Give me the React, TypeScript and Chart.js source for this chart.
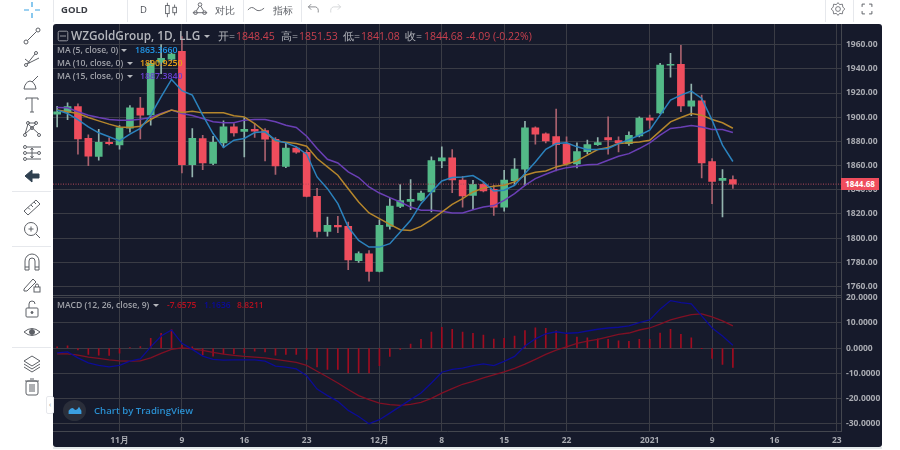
import React, { useEffect, useRef } from "react";
import { Chart, registerables } from "chart.js";

Chart.register(...registerables);

const opens = [1902.5,1904.2,1908.9,1882.6,1867.5,1879.3,1877,1891,1907.5,1902,1945.6,1948,1954.5,1860.8,1882.4,1861.7,1878.8,1892,1888.2,1890,1889,1881.8,1859.4,1874.4,1871,1834.6,1805.6,1810.6,1809.7,1781.3,1787,1772.4,1809.7,1826.3,1830.4,1831.5,1838.2,1863.9,1866.4,1848.1,1835.4,1844.5,1840.4,1825.7,1847.6,1857,1891.2,1886.2,1884,1877.7,1861.4,1871.6,1877.4,1883.2,1880.7,1878.2,1884.6,1899.2,1903.6,1943.1,1943.7,1909.2,1913.6,1863.3,1847.8,1848.45];
const closes = [1904.5,1908.9,1882,1867.7,1879.3,1878.2,1891.2,1907.8,1901.7,1944.5,1948.7,1952.3,1860.8,1882.6,1862.2,1879.3,1892,1887,1890,1888.5,1881.8,1859.7,1874.4,1871,1834.6,1805.6,1810.6,1809.2,1782,1787.3,1772.4,1810.6,1826.6,1831,1832.1,1837.3,1864.1,1866.4,1848.1,1834.9,1844.5,1839,1825.7,1848.1,1857.2,1891.2,1886,1880.4,1877.4,1861.4,1871.6,1877.4,1879.1,1881.3,1878.8,1885.1,1899.2,1897.6,1943.1,1943.7,1909.4,1913.6,1862.2,1847,1849.5,1844.68];
const highs = [1909,1912,1911,1885.4,1890,1883,1893,1909.7,1916.4,1947,1960,1953,1966.6,1890.7,1885,1884.3,1897,1894.8,1899.8,1895,1890.7,1883.2,1879.3,1875.7,1872.7,1841.2,1817.5,1818,1813.3,1788.6,1789.8,1815.2,1832.7,1844.3,1848.4,1839,1867.2,1875.5,1873.3,1851.2,1847.8,1846.5,1843.7,1856.1,1865.8,1896.7,1892,1887,1906.7,1883.8,1878.8,1881,1883.2,1900.3,1883.8,1887.9,1900.3,1901.7,1944.5,1952.8,1959.4,1927.4,1918.3,1865.8,1856.7,1851.53];
const lows = [1892,1898,1869.4,1860,1864.4,1877,1873.5,1887.6,1882,1893.4,1936,1947,1854,1850.6,1856.7,1860.8,1875,1884.3,1867.2,1883.2,1863.9,1852.8,1858.3,1870,1834,1800.9,1801.7,1804.5,1774,1780,1764.4,1772,1807.5,1825.2,1823.5,1830.7,1821.6,1858.3,1837.6,1825.7,1823.8,1838.2,1818.8,1822.4,1844.5,1843.7,1877.7,1878.8,1855.6,1860.3,1858,1869.7,1876.6,1869.4,1871.3,1876.6,1883.8,1890.7,1903,1933.2,1904.5,1901.2,1849.8,1828.5,1817.5,1841.08];

const ma5 = [1905.9,1903.1,1898.1,1892,1887.1,1883.8,1880.4,1886,1890.7,1901.7,1916.9,1931.3,1921.9,1918.3,1901.7,1886.5,1874.9,1881,1882.4,1887.3,1887.9,1881,1878.8,1875.5,1869.4,1850.6,1840.9,1828.5,1809.2,1798.1,1792.6,1792.6,1795.4,1805,1814.7,1828.5,1838.2,1847.3,1850.1,1850.6,1851.7,1846.5,1839,1839.6,1843.7,1853.4,1863,1873.5,1878.2,1878.8,1875.5,1873.3,1873.3,1874.1,1878.2,1881.5,1885.1,1889.3,1901.7,1914.1,1918.3,1921.6,1915.5,1897.6,1876.9,1863.4];
const ma10 = [1905.9,1904.5,1903.1,1899.8,1897,1894.3,1892,1891.5,1892.6,1898.1,1902.5,1905.9,1903.9,1905,1903.6,1903.6,1903.6,1901.2,1900.3,1894.8,1887.9,1880.4,1879.3,1878.2,1876,1865.8,1858.9,1852,1840.9,1829.9,1820.8,1816.1,1811.4,1807,1806.4,1809.7,1815.3,1821.6,1827.9,1832.7,1838.2,1841.5,1842.9,1843.7,1846.5,1852,1854.5,1855.6,1858.9,1861.1,1863.9,1868.6,1873.3,1874.9,1878.2,1878.8,1879.6,1881,1888.5,1896.2,1899.8,1903.1,1901.7,1898.1,1895.4,1890.9];
const ma15 = [1908.1,1907.8,1904.5,1901.7,1899.8,1898.1,1897.6,1897.6,1898.4,1899.8,1903.1,1905.9,1903.1,1901.4,1899,1896.2,1895.4,1895.4,1897.6,1898.1,1898.1,1896.2,1893.4,1891.5,1884.3,1874.1,1865.2,1862.2,1854.8,1850.1,1842.3,1837.3,1833.5,1829.9,1825.7,1823,1823,1822.2,1820.8,1820.8,1823.5,1825.7,1826.9,1831.3,1836.8,1843.7,1849.2,1852.8,1856.1,1858.3,1859.4,1860.6,1861.1,1864.4,1867.7,1869.9,1874.1,1878.8,1885.1,1890.7,1891.8,1893.1,1892,1889.8,1889.8,1887.4];

const macdLine = [-1.9,-1.5,-3.9,-5.9,-6.9,-7.5,-6.9,-5.2,-4.3,0.5,4.8,7.2,1.9,-0.5,-3.2,-4.5,-4.8,-4.7,-4.7,-4.7,-5.2,-7.2,-7.6,-8.3,-11,-16.3,-18.9,-21.2,-24.8,-27.2,-30.1,-28.5,-25.9,-23.2,-20.5,-17.9,-13.9,-9.6,-8.5,-8,-7,-6.3,-7,-5.3,-3.3,0.8,3.7,5.7,6.5,5.9,6.1,6.8,7.5,8,8.3,8.8,10.1,11.2,15.5,18.9,18.1,17.6,12.8,8,4.8,1.16];
const signalLine = [-2.3,-2.3,-2.8,-3.6,-4.1,-4.7,-5.1,-5.2,-5.1,-3.9,-2.1,-0.5,0.1,-0.3,-0.9,-1.7,-2.4,-2.9,-3.3,-3.6,-3.9,-4.5,-5.1,-5.7,-6.9,-9.2,-11.5,-13.9,-16.5,-18.9,-20.5,-21.9,-22.5,-22.8,-22.4,-21.6,-20,-17.9,-16.1,-14.4,-13.2,-11.9,-10.7,-9.5,-8.1,-6.4,-4.5,-2.5,-0.8,0.5,1.9,2.8,3.5,4.5,5.5,6,7.2,8,9.5,11.2,12.3,13.3,13.6,12.4,10.8,8.82];
const histogram = [0.5,0.9,-0.7,-2.5,-2.8,-2.9,-2,0.1,0.6,3.9,5.9,7.4,1.1,0.5,-2.7,-3.2,-2.3,-2.3,-1.9,-1.2,-1.5,-2.8,-2.5,-2.5,-4.5,-7.5,-8.5,-8.5,-9.9,-9.9,-9.9,-7,-3.3,-0.5,1.6,3.5,6.4,8.3,7.5,6.4,5.9,5.2,3.6,3.9,4.8,7,8.1,7.9,6.9,5.5,4.4,4.1,3.7,3.5,2.9,2.7,3.5,3.5,6,7.5,5.5,4.1,-0.1,-4.1,-6.5,-7.66];

const tickBars = [6, 12, 18, 24, 31, 37, 43, 49, 57, 63, 69, 75];
const tickLabels = ["11月", "9", "16", "23", "12月", "8", "15", "22", "2021", "9", "16", "23"];
const lastPrice = 1844.68;

const UP = "#53b987";
const DOWN = "#ef4d5d";
const UP_WICK = "#93b4ae";
const DOWN_WICK = "#a9616e";
const GRID = "#3a3c45";
const AXIS_TEXT = "#a9abb2";
const FONT = "'Open Sans', sans-serif";
const ICON = "#5d6066";

const xyOf = (values: number[]) => values.map((y, x) => ({ x, y }));
const isUp = (i: number) => closes[i] >= opens[i];

function Txt({ x, y, color, size = 8.5, weight = 400, children }: any) {
  return (
    <span
      style={{
        position: "absolute",
        left: x,
        top: y,
        transform: "translateY(-50%)",
        color,
        fontSize: size,
        fontWeight: weight,
        fontFamily: FONT,
        whiteSpace: "nowrap",
        lineHeight: 1,
      }}
    >
      {children}
    </span>
  );
}

function Caret({ x, y, color = "#b5b7bd" }: any) {
  return (
    <div
      style={{
        position: "absolute",
        left: x,
        top: y - 1,
        width: 0,
        height: 0,
        borderLeft: "3px solid transparent",
        borderRight: "3px solid transparent",
        borderTop: `3px solid ${color}`,
      }}
    />
  );
}

function Icon({ x, y, children, size = 20 }: any) {
  return (
    <svg
      width={size}
      height={size}
      viewBox="0 0 20 20"
      style={{ position: "absolute", left: x - size / 2, top: y - size / 2 }}
      fill="none"
      stroke={ICON}
      strokeWidth={1}
    >
      {children}
    </svg>
  );
}

function Rule({ x, y, w, h, color = "#e6e8ec" }: any) {
  return <div style={{ position: "absolute", left: x, top: y, width: w, height: h, background: color }} />;
}

export default function App() {
  const ref = useRef<HTMLCanvasElement>(null);

  useEffect(() => {
    document.body.style.margin = "0";
    const chart = new Chart(ref.current!, {
      type: "bar",
      data: {
        datasets: [
          {
            type: "bar",
            data: opens.map((o, i) => ({ x: i, y: [o, closes[i]] })) as any,
            backgroundColor: opens.map((_, i) => (isUp(i) ? UP : DOWN)),
            barThickness: 7,
            grouped: false,
            borderWidth: 0,
            xAxisID: "x",
            yAxisID: "y",
            order: 6,
          },
          {
            type: "bar",
            data: lows.map((l, i) => ({ x: i, y: [l, highs[i]] })) as any,
            backgroundColor: opens.map((_, i) => (isUp(i) ? UP_WICK : DOWN_WICK)),
            barThickness: 1,
            grouped: false,
            borderWidth: 0,
            xAxisID: "x",
            yAxisID: "y",
            order: 7,
          },
          {
            type: "line",
            data: [{ x: -0.4, y: lastPrice }, { x: 75.4, y: lastPrice }],
            borderColor: "#b5485a",
            borderWidth: 1,
            borderDash: [1, 1.5],
            pointRadius: 0,
            xAxisID: "x",
            yAxisID: "y",
            order: 5,
          },
          ...[
            { values: ma15, color: "#6a3fb5", order: 4 },
            { values: ma10, color: "#b5862c", order: 3 },
            { values: ma5, color: "#2b82bd", order: 2 },
          ].map((s) => ({
            type: "line" as const,
            data: xyOf(s.values),
            borderColor: s.color,
            borderWidth: 1.5,
            pointRadius: 0,
            tension: 0,
            xAxisID: "x",
            yAxisID: "y",
            order: s.order,
          })),
          {
            type: "bar",
            data: xyOf(histogram) as any,
            backgroundColor: "#a00c20",
            barThickness: 1,
            grouped: false,
            borderWidth: 0,
            xAxisID: "x",
            yAxisID: "m",
            order: 3,
          },
          {
            type: "line",
            data: xyOf(signalLine),
            borderColor: "#801024",
            borderWidth: 1.3,
            pointRadius: 0,
            xAxisID: "x",
            yAxisID: "m",
            order: 2,
          },
          {
            type: "line",
            data: xyOf(macdLine),
            borderColor: "#0c0c96",
            borderWidth: 1.3,
            pointRadius: 0,
            xAxisID: "x",
            yAxisID: "m",
            order: 1,
          },
        ] as any,
      },
      options: {
        responsive: false,
        animation: false,
        layout: { padding: { left: 53, right: 18, top: 24, bottom: 3 } },
        plugins: { legend: { display: false }, tooltip: { enabled: false } },
        scales: {
          x: {
            type: "linear",
            offset: false,
            min: -0.4,
            max: 75.4,
            afterBuildTicks: (axis: any) => {
              axis.ticks = tickBars.map((value) => ({ value }));
            },
            afterFit: (axis: any) => {
              axis.height = 16;
            },
            ticks: {
              autoSkip: false,
              maxRotation: 0,
              padding: 4,
              color: AXIS_TEXT,
              font: { family: FONT, size: 8.5, weight: "bold" },
              callback: (v: any) => tickLabels[tickBars.indexOf(Number(v))],
            },
            grid: { color: GRID, drawTicks: false, offset: false },
            border: { color: "#44474f" },
          },
          y: {
            type: "linear",
            position: "right",
            stack: "panes",
            stackWeight: 2,
            min: 1752.7,
            max: 1977.1,
            afterFit: (axis: any) => {
              axis.width = 41;
            },
            ticks: {
              stepSize: 20,
              includeBounds: false,
              padding: 5,
              color: AXIS_TEXT,
              font: { family: FONT, size: 8.5, weight: "bold" },
              callback: (v: any) => Number(v).toFixed(2),
            },
            grid: { color: GRID, drawTicks: false },
            border: { color: "#44474f" },
          },
          m: {
            type: "linear",
            position: "right",
            stack: "panes",
            stackWeight: 1,
            min: -33,
            max: 21,
            afterFit: (axis: any) => {
              axis.width = 41;
            },
            ticks: {
              stepSize: 10,
              includeBounds: false,
              padding: 5,
              color: AXIS_TEXT,
              font: { family: FONT, size: 8.5, weight: "bold" },
              callback: (v: any) => Number(v).toFixed(4),
            },
            grid: { color: GRID, drawTicks: false },
            border: { color: "#44474f" },
          },
        } as any,
      },
    });
    return () => chart.destroy();
  }, []);

  return (
    <div style={{ position: "fixed", left: 0, top: 0, width: 900, height: 450, background: "#fff", overflow: "hidden" }}>
      <div style={{ position: "absolute", left: 53, top: 24, width: 829, height: 423, background: "#161a2b", borderRadius: 3 }} />
      <Rule x={53} y={447} w={829} h={2} color="#e3e8ea" />
      <canvas ref={ref} width={900} height={450} style={{ position: "absolute", left: 0, top: 0, display: "block" }} />
      <Rule x={53} y={295} w={788} h={1} color="#44474f" />

      {/* last price label */}
      <div
        style={{
          position: "absolute",
          left: 841,
          top: 178,
          width: 38,
          height: 12,
          background: "#ef4d5d",
          color: "#fff",
          fontFamily: FONT,
          fontSize: 8,
          fontWeight: 700,
          lineHeight: "12px",
          textAlign: "center",
        }}
      >
        1844.68
      </div>

      {/* series header */}
      <Icon x={63} y={36} size={12}>
        <rect x="2" y="2" width="16" height="16" rx="2" stroke="#9a9ca3" strokeWidth="1.6" />
        <path d="M5 10H15" stroke="#9a9ca3" strokeWidth="1.6" />
      </Icon>
      <Txt x={71} y={36} color="#b4b6bc" size={11.8} weight={600}>WZGoldGroup, 1D, LLG</Txt>
      <Caret x={204} y={36} />
      <Txt x={218} y={36} color="#b4b6bc" size={10.5}>开=</Txt>
      <Txt x={236} y={36} color="#c8404e" size={10.5}>1848.45</Txt>
      <Txt x={281} y={36} color="#b4b6bc" size={10.5}>高=</Txt>
      <Txt x={299} y={36} color="#c8404e" size={10.5}>1851.53</Txt>
      <Txt x={343} y={36} color="#b4b6bc" size={10.5}>低=</Txt>
      <Txt x={361} y={36} color="#c8404e" size={10.5}>1841.08</Txt>
      <Txt x={405} y={36} color="#b4b6bc" size={10.5}>收=</Txt>
      <Txt x={424} y={36} color="#c8404e" size={10.5}>1844.68</Txt>
      <Txt x={466} y={36} color="#c8404e" size={10.5}>-4.09 (-0.22%)</Txt>

      <Txt x={57} y={50} color="#a0a2a9" size={8.6} weight={600}>MA (5, close, 0)</Txt>
      <Caret x={121} y={50} />
      <Txt x={135} y={50} color="#2196e8" size={8.8} weight={600}>1863.3660</Txt>
      <Txt x={57} y={63} color="#a0a2a9" size={8.6} weight={600}>MA (10, close, 0)</Txt>
      <Caret x={127} y={63} />
      <Txt x={140} y={63} color="#e8a017" size={8.8} weight={600}>1890.9250</Txt>
      <Txt x={57} y={76} color="#a0a2a9" size={8.6} weight={600}>MA (15, close, 0)</Txt>
      <Caret x={127} y={76} />
      <Txt x={140} y={76} color="#6a3fd0" size={8.8} weight={600}>1887.3840</Txt>

      <Txt x={57} y={305} color="#a0a2a9" size={8.6} weight={600}>MACD (12, 26, close, 9)</Txt>
      <Caret x={153} y={305} />
      <Txt x={167} y={305} color="#b8101f" size={8.5} weight={600}>-7.6575</Txt>
      <Txt x={204} y={305} color="#0a0a9c" size={8.5} weight={600}>1.1636</Txt>
      <Txt x={237} y={305} color="#b8101f" size={8.5} weight={600}>8.8211</Txt>

      {/* watermark */}
      <div style={{ position: "absolute", left: 63, top: 400, width: 23, height: 21, borderRadius: "50%", background: "#2a2e3a" }} />
      <Icon x={75} y={410} size={16}>
        <path d="M2 15 L2 11 Q6 5 9 9 Q12 12 15 6 L18 11 L18 15 Z" fill="#3b9fe0" stroke="none" />
      </Icon>
      <Txt x={94} y={411} color="#2a8fd0" size={9.6} weight={600}>Chart by TradingView</Txt>

      {/* top toolbar */}
      <Rule x={53} y={0} w={1} h={22} />
      <Txt x={61} y={10} color="#3a3d44" size={9.5} weight={700}>GOLD</Txt>
      <Rule x={127} y={0} w={1} h={22} />
      <Txt x={140} y={10} color="#50535a" size={9.5}>D</Txt>
      <Icon x={171} y={10} size={18}>
        <path d="M6 2V18M14 4V16" />
        <rect x="4" y="5" width="4" height="9" fill="#fff" />
        <rect x="12" y="7" width="4" height="6" fill="#fff" />
      </Icon>
      <Rule x={186} y={0} w={1} h={22} />
      <Icon x={200} y={10} size={18}>
        <circle cx="5" cy="13" r="2" /><circle cx="10" cy="4" r="2" /><circle cx="15" cy="13" r="2" />
        <path d="M2 13H18M6 11L9 6M11 6L14 11" />
      </Icon>
      <Txt x={215} y={10} color="#5d6066" size={10}>对比</Txt>
      <Rule x={243} y={0} w={1} h={22} />
      <Icon x={256} y={10} size={18}>
        <path d="M1 10Q5 5 9 9T19 8" />
      </Icon>
      <Txt x={273} y={10} color="#5d6066" size={10}>指标</Txt>
      <Rule x={301} y={0} w={1} h={22} />
      <Icon x={314} y={9} size={14}>
        <path d="M6 3L2 7L6 11M2 7H12Q17 8 16 15" />
      </Icon>
      <Icon x={335} y={9} size={14}>
        <g stroke="#c5c8cc"><path d="M14 3L18 7L14 11M18 7H8Q3 8 4 15" /></g>
      </Icon>
      <Rule x={825} y={0} w={1} h={22} />
      <Icon x={838} y={9} size={16}>
        <circle cx="10" cy="10" r="3" />
        <path d="M10 2L12 4.5L15.5 4L16 7.5L18.5 10L16 12.5L15.5 16L12 15.5L10 18L8 15.5L4.5 16L4 12.5L1.500 10L4 7.500L4.500 4L8 4.500Z" />
      </Icon>
      <Rule x={853} y={0} w={1} h={22} />
      <Icon x={867} y={9} size={14}>
        <path d="M3 7V3H7M13 3H17V7M17 13V17H13M7 17H3V13" strokeWidth="1.4" />
      </Icon>

      {/* left toolbar */}
      <Icon x={32} y={10}>
        <g stroke="#3aa3e3" strokeWidth="1.2"><path d="M10 2V7M10 13V18M2 10H7M13 10H18" /></g>
      </Icon>
      <Icon x={32} y={36}>
        <circle cx="4" cy="16" r="2" /><circle cx="16" cy="4" r="2" /><path d="M5.500 14.500L14.500 5.500" />
      </Icon>
      <Icon x={32} y={59}>
        <circle cx="4" cy="16" r="1.500" /><circle cx="14" cy="4" r="1.500" /><path d="M5 15L17 9M5 15L13 5M3 10L8 14" />
      </Icon>
      <Icon x={32} y={83}>
        <path d="M2 16H14Q13 9 8 8Q3 9 2 16ZM10 9L16 3" />
      </Icon>
      <Icon x={32} y={105}>
        <path d="M4 5V3H16V5M10 3V17M8 17H12" />
      </Icon>
      <Icon x={32} y={129}>
        <circle cx="3" cy="16" r="1.500" /><circle cx="6" cy="4" r="1.500" /><circle cx="14" cy="4" r="1.500" /><circle cx="17" cy="16" r="1.500" /><circle cx="10" cy="9" r="1.500" />
        <path d="M3 15L6 5L17 15M14 5L3 15M6 4H14" />
      </Icon>
      <Icon x={32} y={153}>
        <circle cx="3" cy="4" r="1.500" /><circle cx="3" cy="10" r="1.500" /><circle cx="3" cy="16" r="1.500" />
        <circle cx="17" cy="10" r="1.500" />
        <path d="M5 4H19M5 10H15M5 16H19M10 5V15M8.500 7L10 5L11.500 7M8.500 13L10 15L11.500 13" />
      </Icon>
      <Icon x={32} y={176}>
        <path d="M3 10L10 4V8H17V12H10V16Z" fill="#2f4050" stroke="#2f4050" />
      </Icon>
      <Rule x={12} y={191} w={39} h={1} />
      <Icon x={32} y={207}>
        <path d="M2 14L14 3L18 7L6 18Z" />
        <path d="M6 10.500L8 12.500M9 8L11 10M12 5L14 7" />
      </Icon>
      <Icon x={32} y={230}>
        <circle cx="9" cy="9" r="6.500" /><path d="M6.500 9H11.500M9 6.500V11.500M14 14L18 18" />
      </Icon>
      <Rule x={12} y={246} w={39} h={1} />
      <Icon x={32} y={262}>
        <path d="M3 18V9A7 7 0 0 1 17 9V18H13V9A3 3 0 0 0 7 9V18ZM3 15H7M13 15H17" />
      </Icon>
      <Icon x={32} y={285}>
        <path d="M2 14L11 4L14 7L5 16L2 16Z" />
        <rect x="12" y="12" width="6" height="5" /><path d="M13.500 12V10.500A1.500 1.500 0 0 1 16.500 10.500V12" />
      </Icon>
      <Icon x={32} y={309}>
        <rect x="4" y="9" width="12" height="9" rx="1" /><path d="M7 9V5A3 3 0 0 1 13 5" /><circle cx="10" cy="13.500" r="1" fill={ICON} />
      </Icon>
      <Icon x={32} y={332}>
        <path d="M2 10Q10 3 18 10Q10 17 2 10Z" /><circle cx="10" cy="10" r="2.500" fill={ICON} />
      </Icon>
      <Rule x={12} y={347} w={39} h={1} />
      <Icon x={32} y={363}>
        <path d="M10 3L18 8L10 13L2 8ZM2 11L10 16L18 11M2 14L10 19L18 14" />
      </Icon>
      <Icon x={32} y={387}>
        <rect x="4" y="4" width="12" height="14" rx="2" /><path d="M3 4H17M8 2H12M8 7V15M10 7V15M12 7V15" />
      </Icon>
      <div style={{ position: "absolute", left: 46, top: 396, width: 6, height: 16, border: "1px solid #e6e8ec", borderRadius: 2, background: "#fff", color: "#888", fontSize: 7, lineHeight: "16px", textAlign: "center", fontFamily: FONT }}>‹</div>
    </div>
  );
}
